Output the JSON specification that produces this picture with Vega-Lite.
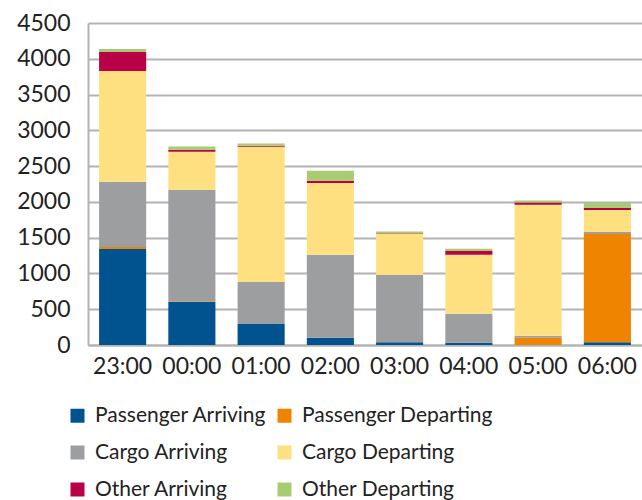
{
  "$schema": "https://vega.github.io/schema/vega-lite/v6.json",
  "autosize": "none",
  "width": 554,
  "height": 322,
  "padding": {"left": 88, "top": 23, "right": 0, "bottom": 155},
  "background": "white",
  "datasets": {
    "flights": [
      {"hour": "23:00", "type": "Passenger Arriving", "count": 1340},
      {"hour": "23:00", "type": "Passenger Departing", "count": 30},
      {"hour": "23:00", "type": "Cargo Arriving", "count": 910},
      {"hour": "23:00", "type": "Cargo Departing", "count": 1550},
      {"hour": "23:00", "type": "Other Arriving", "count": 265},
      {"hour": "23:00", "type": "Other Departing", "count": 40},

      {"hour": "00:00", "type": "Passenger Arriving", "count": 605},
      {"hour": "00:00", "type": "Passenger Departing", "count": 5},
      {"hour": "00:00", "type": "Cargo Arriving", "count": 1560},
      {"hour": "00:00", "type": "Cargo Departing", "count": 530},
      {"hour": "00:00", "type": "Other Arriving", "count": 30},
      {"hour": "00:00", "type": "Other Departing", "count": 45},

      {"hour": "01:00", "type": "Passenger Arriving", "count": 295},
      {"hour": "01:00", "type": "Passenger Departing", "count": 0},
      {"hour": "01:00", "type": "Cargo Arriving", "count": 585},
      {"hour": "01:00", "type": "Cargo Departing", "count": 1890},
      {"hour": "01:00", "type": "Other Arriving", "count": 15},
      {"hour": "01:00", "type": "Other Departing", "count": 30},

      {"hour": "02:00", "type": "Passenger Arriving", "count": 100},
      {"hour": "02:00", "type": "Passenger Departing", "count": 0},
      {"hour": "02:00", "type": "Cargo Arriving", "count": 1160},
      {"hour": "02:00", "type": "Cargo Departing", "count": 1005},
      {"hour": "02:00", "type": "Other Arriving", "count": 30},
      {"hour": "02:00", "type": "Other Departing", "count": 140},

      {"hour": "03:00", "type": "Passenger Arriving", "count": 40},
      {"hour": "03:00", "type": "Passenger Departing", "count": 0},
      {"hour": "03:00", "type": "Cargo Arriving", "count": 940},
      {"hour": "03:00", "type": "Cargo Departing", "count": 575},
      {"hour": "03:00", "type": "Other Arriving", "count": 5},
      {"hour": "03:00", "type": "Other Departing", "count": 25},

      {"hour": "04:00", "type": "Passenger Arriving", "count": 30},
      {"hour": "04:00", "type": "Passenger Departing", "count": 0},
      {"hour": "04:00", "type": "Cargo Arriving", "count": 405},
      {"hour": "04:00", "type": "Cargo Departing", "count": 825},
      {"hour": "04:00", "type": "Other Arriving", "count": 55},
      {"hour": "04:00", "type": "Other Departing", "count": 30},

      {"hour": "05:00", "type": "Passenger Arriving", "count": 0},
      {"hour": "05:00", "type": "Passenger Departing", "count": 100},
      {"hour": "05:00", "type": "Cargo Arriving", "count": 30},
      {"hour": "05:00", "type": "Cargo Departing", "count": 1830},
      {"hour": "05:00", "type": "Other Arriving", "count": 30},
      {"hour": "05:00", "type": "Other Departing", "count": 30},

      {"hour": "06:00", "type": "Passenger Arriving", "count": 40},
      {"hour": "06:00", "type": "Passenger Departing", "count": 1510},
      {"hour": "06:00", "type": "Cargo Arriving", "count": 30},
      {"hour": "06:00", "type": "Cargo Departing", "count": 305},
      {"hour": "06:00", "type": "Other Arriving", "count": 30},
      {"hour": "06:00", "type": "Other Departing", "count": 70}
    ],
    "types": [
      {"type": "Passenger Arriving", "rank": 1},
      {"type": "Passenger Departing", "rank": 2},
      {"type": "Cargo Arriving", "rank": 3},
      {"type": "Cargo Departing", "rank": 4},
      {"type": "Other Arriving", "rank": 5},
      {"type": "Other Departing", "rank": 6}
    ]
  },
  "data": {"name": "flights"},
  "transform": [
    {
      "lookup": "type",
      "from": {"data": {"name": "types"}, "key": "type", "fields": ["rank"]}
    }
  ],
  "mark": {"type": "bar"},
  "encoding": {
    "x": {
      "field": "hour",
      "type": "nominal",
      "sort": null,
      "scale": {"paddingInner": 0.32, "paddingOuter": 0.16},
      "axis": {
        "title": null,
        "labelAngle": 0,
        "labelFont": "Lato",
        "labelFontSize": 23,
        "labelColor": "#222222",
        "labelPadding": 10,
        "ticks": false,
        "domainColor": "#b3b3b3",
        "domainWidth": 2
      }
    },
    "y": {
      "field": "count",
      "type": "quantitative",
      "stack": "zero",
      "scale": {"domain": [0, 4500], "nice": false},
      "axis": {
        "title": null,
        "format": "d",
        "values": [0, 500, 1000, 1500, 2000, 2500, 3000, 3500, 4000, 4500],
        "labelFont": "Lato",
        "labelFontSize": 23,
        "labelColor": "#222222",
        "labelPadding": 18,
        "ticks": false,
        "domainColor": "#b3b3b3",
        "domainWidth": 2,
        "grid": true,
        "gridColor": "#b3b3b3",
        "gridWidth": 2
      }
    },
    "color": {
      "field": "type",
      "type": "nominal",
      "sort": ["Passenger Arriving", "Passenger Departing", "Cargo Arriving", "Cargo Departing", "Other Arriving", "Other Departing"],
      "scale": {
        "domain": ["Passenger Arriving", "Passenger Departing", "Cargo Arriving", "Cargo Departing", "Other Arriving", "Other Departing"],
        "range": ["#00538f", "#ee8400", "#9d9ea0", "#ffe080", "#ba0046", "#a8cc72"]
      },
      "legend": {
        "title": null,
        "orient": "none",
        "legendX": -21,
        "legendY": 382,
        "direction": "horizontal",
        "columns": 2,
        "symbolType": "square",
        "symbolSize": 196,
        "symbolStrokeWidth": 0,
        "labelFont": "Lato",
        "labelFontSize": 21,
        "labelColor": "#222222",
        "labelOffset": 7,
        "rowPadding": 15,
        "columnPadding": 7,
        "labelLimit": 400
      }
    },
    "order": {"field": "rank", "type": "quantitative", "sort": "ascending"}
  },
  "config": {
    "view": {"stroke": null}
  }
}
